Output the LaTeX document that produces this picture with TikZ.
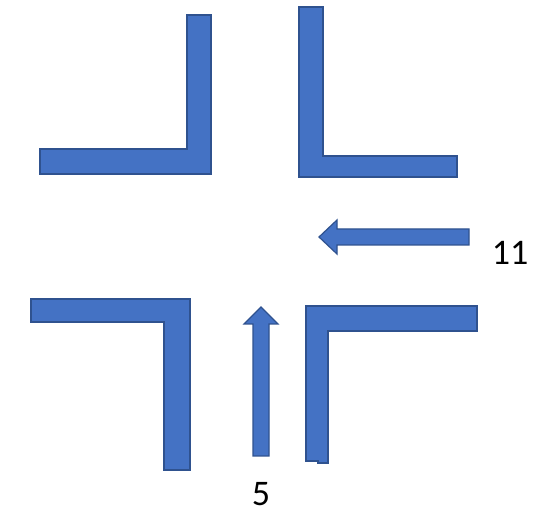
\documentclass[tikz,border=0pt]{standalone}
\usepackage{fontspec}
\setmainfont{Carlito}
\definecolor{roadblue}{HTML}{4472C4}
\definecolor{roadedge}{HTML}{2F528F}
\begin{document}
\begin{tikzpicture}[x=1pt,y=-1pt,
	bar/.style={fill=roadblue,draw=roadedge,line width=1.2pt,line join=miter},
	lbl/.style={font=\fontsize{36}{40}\selectfont,inner sep=0pt}]
	\useasboundingbox (0,0) rectangle (542,513);
	% corners of the crossing
	\draw[bar] (40,149)--(187,149)--(187,15)--(211,15)--(211,174)--(40,174)--cycle;
	\draw[bar] (299,7)--(323,7)--(323,156)--(457,156)--(457,177)--(299,177)--cycle;
	\draw[bar] (31,299)--(190,299)--(190,470)--(164,470)--(164,322)--(31,322)--cycle;
	\draw[bar] (306,306)--(477,306)--(477,331)--(328,331)--(328,463)--(318,463)--(318,461)--(306,461)--cycle;
	% arrows
	\draw[bar] (469,229)--(337,229)--(337,220)--(319,237)--(337,254)--(337,245)--(469,245)--cycle;
	\draw[bar] (253,456)--(253,324)--(244,324)--(261,307)--(278,324)--(269,324)--(269,456)--cycle;
	\node[lbl] (eleven) at (510,253) {11};
	\node[lbl] (five) at (261,494.5) {5};
\end{tikzpicture}
\end{document}
